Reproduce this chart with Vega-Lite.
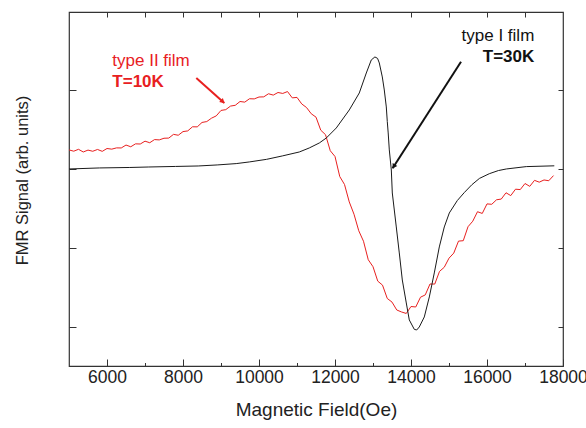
{
  "$schema": "https://vega.github.io/schema/vega-lite/v6.json",
  "width": 494,
  "height": 354,
  "autosize": {"type": "none"},
  "padding": {"left": 69, "top": 12, "right": 23, "bottom": 62},
  "background": "white",
  "config": {
    "view": {"stroke": "#333333", "strokeWidth": 1.2},
    "axis": {
      "domain": false,
      "grid": false,
      "labelFont": "Liberation Sans",
      "labelFontSize": 17.5,
      "labelColor": "#222222",
      "titleFont": "Liberation Sans",
      "titleFontWeight": "normal",
      "titleFontSize": 19,
      "titleColor": "#222222",
      "tickColor": "#333333",
      "tickWidth": 1
    }
  },
  "datasets": {
    "curves": [
      {"film": "II", "field": 5000, "signal": 0.241},
      {"film": "II", "field": 5125, "signal": 0.225},
      {"film": "II", "field": 5250, "signal": 0.249},
      {"film": "II", "field": 5375, "signal": 0.215},
      {"film": "II", "field": 5500, "signal": 0.239},
      {"film": "II", "field": 5625, "signal": 0.224},
      {"film": "II", "field": 5750, "signal": 0.247},
      {"film": "II", "field": 5875, "signal": 0.223},
      {"film": "II", "field": 6000, "signal": 0.259},
      {"film": "II", "field": 6125, "signal": 0.251},
      {"film": "II", "field": 6250, "signal": 0.267},
      {"film": "II", "field": 6375, "signal": 0.266},
      {"film": "II", "field": 6500, "signal": 0.303},
      {"film": "II", "field": 6625, "signal": 0.281},
      {"film": "II", "field": 6750, "signal": 0.318},
      {"film": "II", "field": 6875, "signal": 0.316},
      {"film": "II", "field": 7000, "signal": 0.352},
      {"film": "II", "field": 7125, "signal": 0.332},
      {"film": "II", "field": 7250, "signal": 0.372},
      {"film": "II", "field": 7375, "signal": 0.368},
      {"film": "II", "field": 7500, "signal": 0.389},
      {"film": "II", "field": 7625, "signal": 0.391},
      {"film": "II", "field": 7750, "signal": 0.438},
      {"film": "II", "field": 7875, "signal": 0.427},
      {"film": "II", "field": 8000, "signal": 0.473},
      {"film": "II", "field": 8125, "signal": 0.482},
      {"film": "II", "field": 8250, "signal": 0.534},
      {"film": "II", "field": 8375, "signal": 0.533},
      {"film": "II", "field": 8500, "signal": 0.589},
      {"film": "II", "field": 8625, "signal": 0.600},
      {"film": "II", "field": 8750, "signal": 0.643},
      {"film": "II", "field": 8875, "signal": 0.672},
      {"film": "II", "field": 9000, "signal": 0.741},
      {"film": "II", "field": 9125, "signal": 0.751},
      {"film": "II", "field": 9250, "signal": 0.796},
      {"film": "II", "field": 9375, "signal": 0.806},
      {"film": "II", "field": 9500, "signal": 0.854},
      {"film": "II", "field": 9625, "signal": 0.846},
      {"film": "II", "field": 9750, "signal": 0.889},
      {"film": "II", "field": 9875, "signal": 0.887},
      {"film": "II", "field": 10000, "signal": 0.911},
      {"film": "II", "field": 10125, "signal": 0.913},
      {"film": "II", "field": 10250, "signal": 0.952},
      {"film": "II", "field": 10375, "signal": 0.935},
      {"film": "II", "field": 10500, "signal": 0.968},
      {"film": "II", "field": 10625, "signal": 0.956},
      {"film": "II", "field": 10750, "signal": 0.980},
      {"film": "II", "field": 10875, "signal": 0.900},
      {"film": "II", "field": 11000, "signal": 0.906},
      {"film": "II", "field": 11125, "signal": 0.823},
      {"film": "II", "field": 11250, "signal": 0.778},
      {"film": "II", "field": 11375, "signal": 0.699},
      {"film": "II", "field": 11500, "signal": 0.656},
      {"film": "II", "field": 11625, "signal": 0.491},
      {"film": "II", "field": 11750, "signal": 0.434},
      {"film": "II", "field": 11875, "signal": 0.231},
      {"film": "II", "field": 12000, "signal": 0.158},
      {"film": "II", "field": 12125, "signal": -0.096},
      {"film": "II", "field": 12250, "signal": -0.196},
      {"film": "II", "field": 12375, "signal": -0.417},
      {"film": "II", "field": 12500, "signal": -0.573},
      {"film": "II", "field": 12625, "signal": -0.782},
      {"film": "II", "field": 12750, "signal": -0.915},
      {"film": "II", "field": 12875, "signal": -1.149},
      {"film": "II", "field": 13000, "signal": -1.237},
      {"film": "II", "field": 13125, "signal": -1.420},
      {"film": "II", "field": 13250, "signal": -1.470},
      {"film": "II", "field": 13375, "signal": -1.639},
      {"film": "II", "field": 13500, "signal": -1.685},
      {"film": "II", "field": 13625, "signal": -1.785},
      {"film": "II", "field": 13750, "signal": -1.810},
      {"film": "II", "field": 13875, "signal": -1.829},
      {"film": "II", "field": 14000, "signal": -1.741},
      {"film": "II", "field": 14125, "signal": -1.747},
      {"film": "II", "field": 14250, "signal": -1.623},
      {"film": "II", "field": 14375, "signal": -1.594},
      {"film": "II", "field": 14500, "signal": -1.456},
      {"film": "II", "field": 14625, "signal": -1.457},
      {"film": "II", "field": 14750, "signal": -1.297},
      {"film": "II", "field": 14875, "signal": -1.244},
      {"film": "II", "field": 15000, "signal": -1.129},
      {"film": "II", "field": 15125, "signal": -1.065},
      {"film": "II", "field": 15250, "signal": -0.913},
      {"film": "II", "field": 15375, "signal": -0.908},
      {"film": "II", "field": 15500, "signal": -0.731},
      {"film": "II", "field": 15625, "signal": -0.661},
      {"film": "II", "field": 15750, "signal": -0.541},
      {"film": "II", "field": 15875, "signal": -0.563},
      {"film": "II", "field": 16000, "signal": -0.442},
      {"film": "II", "field": 16125, "signal": -0.447},
      {"film": "II", "field": 16250, "signal": -0.390},
      {"film": "II", "field": 16375, "signal": -0.381},
      {"film": "II", "field": 16500, "signal": -0.301},
      {"film": "II", "field": 16625, "signal": -0.337},
      {"film": "II", "field": 16750, "signal": -0.256},
      {"film": "II", "field": 16875, "signal": -0.261},
      {"film": "II", "field": 17000, "signal": -0.184},
      {"film": "II", "field": 17125, "signal": -0.220},
      {"film": "II", "field": 17250, "signal": -0.144},
      {"film": "II", "field": 17375, "signal": -0.167},
      {"film": "II", "field": 17500, "signal": -0.139},
      {"film": "II", "field": 17625, "signal": -0.149},
      {"film": "II", "field": 17750, "signal": -0.084},
      {"film": "I", "field": 5000, "signal": 0.0},
      {"film": "I", "field": 5800, "signal": 0.013},
      {"film": "I", "field": 6600, "signal": 0.019},
      {"film": "I", "field": 7100, "signal": 0.025},
      {"film": "I", "field": 7800, "signal": 0.032},
      {"film": "I", "field": 8400, "signal": 0.038},
      {"film": "I", "field": 8900, "signal": 0.051},
      {"film": "I", "field": 9400, "signal": 0.068},
      {"film": "I", "field": 9745, "signal": 0.089},
      {"film": "I", "field": 10200, "signal": 0.122},
      {"film": "I", "field": 10613, "signal": 0.165},
      {"film": "I", "field": 11060, "signal": 0.215},
      {"film": "I", "field": 11323, "signal": 0.266},
      {"film": "I", "field": 11587, "signal": 0.329},
      {"film": "I", "field": 11771, "signal": 0.392},
      {"film": "I", "field": 12034, "signal": 0.519},
      {"film": "I", "field": 12376, "signal": 0.747},
      {"film": "I", "field": 12639, "signal": 0.962},
      {"film": "I", "field": 12824, "signal": 1.215},
      {"film": "I", "field": 12955, "signal": 1.380},
      {"film": "I", "field": 13050, "signal": 1.418},
      {"film": "I", "field": 13120, "signal": 1.40},
      {"film": "I", "field": 13166, "signal": 1.342},
      {"film": "I", "field": 13245, "signal": 1.165},
      {"film": "I", "field": 13297, "signal": 1.0},
      {"film": "I", "field": 13350, "signal": 0.785},
      {"film": "I", "field": 13376, "signal": 0.60},
      {"film": "I", "field": 13400, "signal": 0.456},
      {"film": "I", "field": 13429, "signal": 0.241},
      {"film": "I", "field": 13482, "signal": -0.013},
      {"film": "I", "field": 13508, "signal": -0.304},
      {"film": "I", "field": 13613, "signal": -0.734},
      {"film": "I", "field": 13692, "signal": -1.063},
      {"film": "I", "field": 13771, "signal": -1.405},
      {"film": "I", "field": 13876, "signal": -1.696},
      {"film": "I", "field": 13955, "signal": -1.911},
      {"film": "I", "field": 14087, "signal": -2.030},
      {"film": "I", "field": 14150, "signal": -2.038},
      {"film": "I", "field": 14218, "signal": -2.0},
      {"film": "I", "field": 14350, "signal": -1.873},
      {"film": "I", "field": 14482, "signal": -1.620},
      {"film": "I", "field": 14613, "signal": -1.316},
      {"film": "I", "field": 14745, "signal": -0.987},
      {"film": "I", "field": 14876, "signal": -0.734},
      {"film": "I", "field": 15008, "signal": -0.557},
      {"film": "I", "field": 15218, "signal": -0.40},
      {"film": "I", "field": 15400, "signal": -0.30},
      {"film": "I", "field": 15600, "signal": -0.20},
      {"film": "I", "field": 15800, "signal": -0.12},
      {"film": "I", "field": 16060, "signal": -0.06},
      {"film": "I", "field": 16300, "signal": -0.02},
      {"film": "I", "field": 16508, "signal": 0.0},
      {"film": "I", "field": 17034, "signal": 0.03},
      {"film": "I", "field": 17771, "signal": 0.04}
    ],
    "notes": [
      {"film": "II", "kind": "name", "field": 6140, "signal": 1.304, "label": "type II film"},
      {"film": "II", "kind": "temp", "field": 6140, "signal": 1.038, "label": "T=10K"},
      {"film": "I", "kind": "name", "field": 17245, "signal": 1.620, "label": "type I film"},
      {"film": "I", "kind": "temp", "field": 17245, "signal": 1.354, "label": "T=30K"}
    ],
    "arrows": [
      {"film": "I", "field": 15316, "signal": 1.358, "field2": 13516, "signal2": 0.009, "headField": 13545, "headSignal": 0.030},
      {"film": "II", "field": 8350, "signal": 1.152, "field2": 9087, "signal2": 0.835, "headField": 9047, "headSignal": 0.852}
    ]
  },
  "resolve": {"axis": {"x": "independent", "y": "independent"}},
  "layer": [
    {
      "data": {"name": "curves"},
      "transform": [{"filter": "datum.film === 'II'"}],
      "mark": {"type": "line", "color": "#e8201f", "strokeWidth": 1, "clip": true},
      "encoding": {
        "x": {"field": "field", "type": "quantitative", "scale": {"domain": [5000, 18000], "nice": false, "zero": false},
          "axis": {"orient": "bottom", "values": [6000, 8000, 10000, 12000, 14000, 16000, 18000], "format": "d", "tickSize": -7, "labelPadding": 9, "labelFlush": false, "labelOverlap": false, "title": "Magnetic Field(Oe)", "titlePadding": 15}},
        "y": {"field": "signal", "type": "quantitative", "scale": {"domain": [-2.494, 1.987], "nice": false, "zero": false},
          "axis": {"orient": "left", "values": [-2, -1, 0, 1], "labels": false, "tickSize": -7, "title": "FMR Signal (arb. units)", "titleFontSize": 16.5, "titlePadding": 38, "titleY": 168}},
        "order": {"field": "field", "type": "quantitative"}
      }
    },
    {
      "data": {"name": "curves"},
      "transform": [{"filter": "datum.film === 'I'"}],
      "mark": {"type": "line", "color": "#1a1a1a", "strokeWidth": 1, "clip": true},
      "encoding": {
        "x": {"field": "field", "type": "quantitative", "scale": {"domain": [5000, 18000], "nice": false, "zero": false},
          "axis": {"orient": "bottom", "values": [7000, 9000, 11000, 13000, 15000, 17000], "labels": false, "tickSize": -3.5, "title": null}},
        "y": {"field": "signal", "type": "quantitative", "scale": {"domain": [-2.494, 1.987], "nice": false, "zero": false},
          "axis": {"orient": "right", "values": [-2, -1, 0, 1], "labels": false, "tickSize": -5, "title": null}},
        "order": {"field": "field", "type": "quantitative"}
      }
    },
    {
      "data": {"name": "arrows"},
      "mark": {"type": "rule", "strokeWidth": 2},
      "encoding": {
        "x": {"field": "field", "type": "quantitative", "scale": {"domain": [5000, 18000], "nice": false, "zero": false}, "axis": null},
        "y": {"field": "signal", "type": "quantitative", "scale": {"domain": [-2.494, 1.987], "nice": false, "zero": false}, "axis": null},
        "x2": {"field": "field2"},
        "y2": {"field": "signal2"},
        "color": {"field": "film", "type": "nominal", "scale": {"domain": ["I", "II"], "range": ["#111111", "#e8201f"]}, "legend": null}
      }
    },
    {
      "data": {"name": "arrows"},
      "transform": [{"filter": "datum.film === 'I'"}],
      "mark": {"type": "point", "shape": "triangle-up", "filled": true, "size": 30, "angle": 213, "color": "#111111", "opacity": 1},
      "encoding": {
        "x": {"field": "headField", "type": "quantitative", "scale": {"domain": [5000, 18000], "nice": false, "zero": false}, "axis": null},
        "y": {"field": "headSignal", "type": "quantitative", "scale": {"domain": [-2.494, 1.987], "nice": false, "zero": false}, "axis": null}
      }
    },
    {
      "data": {"name": "arrows"},
      "transform": [{"filter": "datum.film === 'II'"}],
      "mark": {"type": "point", "shape": "triangle-up", "filled": true, "size": 30, "angle": 132, "color": "#e8201f", "opacity": 1},
      "encoding": {
        "x": {"field": "headField", "type": "quantitative", "scale": {"domain": [5000, 18000], "nice": false, "zero": false}, "axis": null},
        "y": {"field": "headSignal", "type": "quantitative", "scale": {"domain": [-2.494, 1.987], "nice": false, "zero": false}, "axis": null}
      }
    },
    {
      "data": {"name": "notes"},
      "transform": [{"filter": "datum.film === 'II' && datum.kind === 'name'"}],
      "mark": {"type": "text", "align": "left", "baseline": "alphabetic", "font": "Liberation Sans", "fontSize": 17, "color": "#e8201f"},
      "encoding": {
        "x": {"field": "field", "type": "quantitative", "scale": {"domain": [5000, 18000], "nice": false, "zero": false},
          "axis": {"orient": "top", "values": [6000, 7000, 8000, 9000, 10000, 11000, 12000, 13000, 14000, 15000, 16000, 17000], "labels": false, "tickSize": -5, "title": null}},
        "y": {"field": "signal", "type": "quantitative", "scale": {"domain": [-2.494, 1.987], "nice": false, "zero": false}, "axis": null},
        "text": {"field": "label"}
      }
    },
    {
      "data": {"name": "notes"},
      "transform": [{"filter": "datum.film === 'II' && datum.kind === 'temp'"}],
      "mark": {"type": "text", "align": "left", "baseline": "alphabetic", "font": "Liberation Sans", "fontSize": 17, "fontWeight": "bold", "color": "#e8201f"},
      "encoding": {
        "x": {"field": "field", "type": "quantitative", "scale": {"domain": [5000, 18000], "nice": false, "zero": false}, "axis": null},
        "y": {"field": "signal", "type": "quantitative", "scale": {"domain": [-2.494, 1.987], "nice": false, "zero": false}, "axis": null},
        "text": {"field": "label"}
      }
    },
    {
      "data": {"name": "notes"},
      "transform": [{"filter": "datum.film === 'I' && datum.kind === 'name'"}],
      "mark": {"type": "text", "align": "right", "baseline": "alphabetic", "font": "Liberation Sans", "fontSize": 17, "color": "#111111"},
      "encoding": {
        "x": {"field": "field", "type": "quantitative", "scale": {"domain": [5000, 18000], "nice": false, "zero": false}, "axis": null},
        "y": {"field": "signal", "type": "quantitative", "scale": {"domain": [-2.494, 1.987], "nice": false, "zero": false}, "axis": null},
        "text": {"field": "label"}
      }
    },
    {
      "data": {"name": "notes"},
      "transform": [{"filter": "datum.film === 'I' && datum.kind === 'temp'"}],
      "mark": {"type": "text", "align": "right", "baseline": "alphabetic", "font": "Liberation Sans", "fontSize": 17, "fontWeight": "bold", "color": "#111111"},
      "encoding": {
        "x": {"field": "field", "type": "quantitative", "scale": {"domain": [5000, 18000], "nice": false, "zero": false}, "axis": null},
        "y": {"field": "signal", "type": "quantitative", "scale": {"domain": [-2.494, 1.987], "nice": false, "zero": false}, "axis": null},
        "text": {"field": "label"}
      }
    }
  ]
}
